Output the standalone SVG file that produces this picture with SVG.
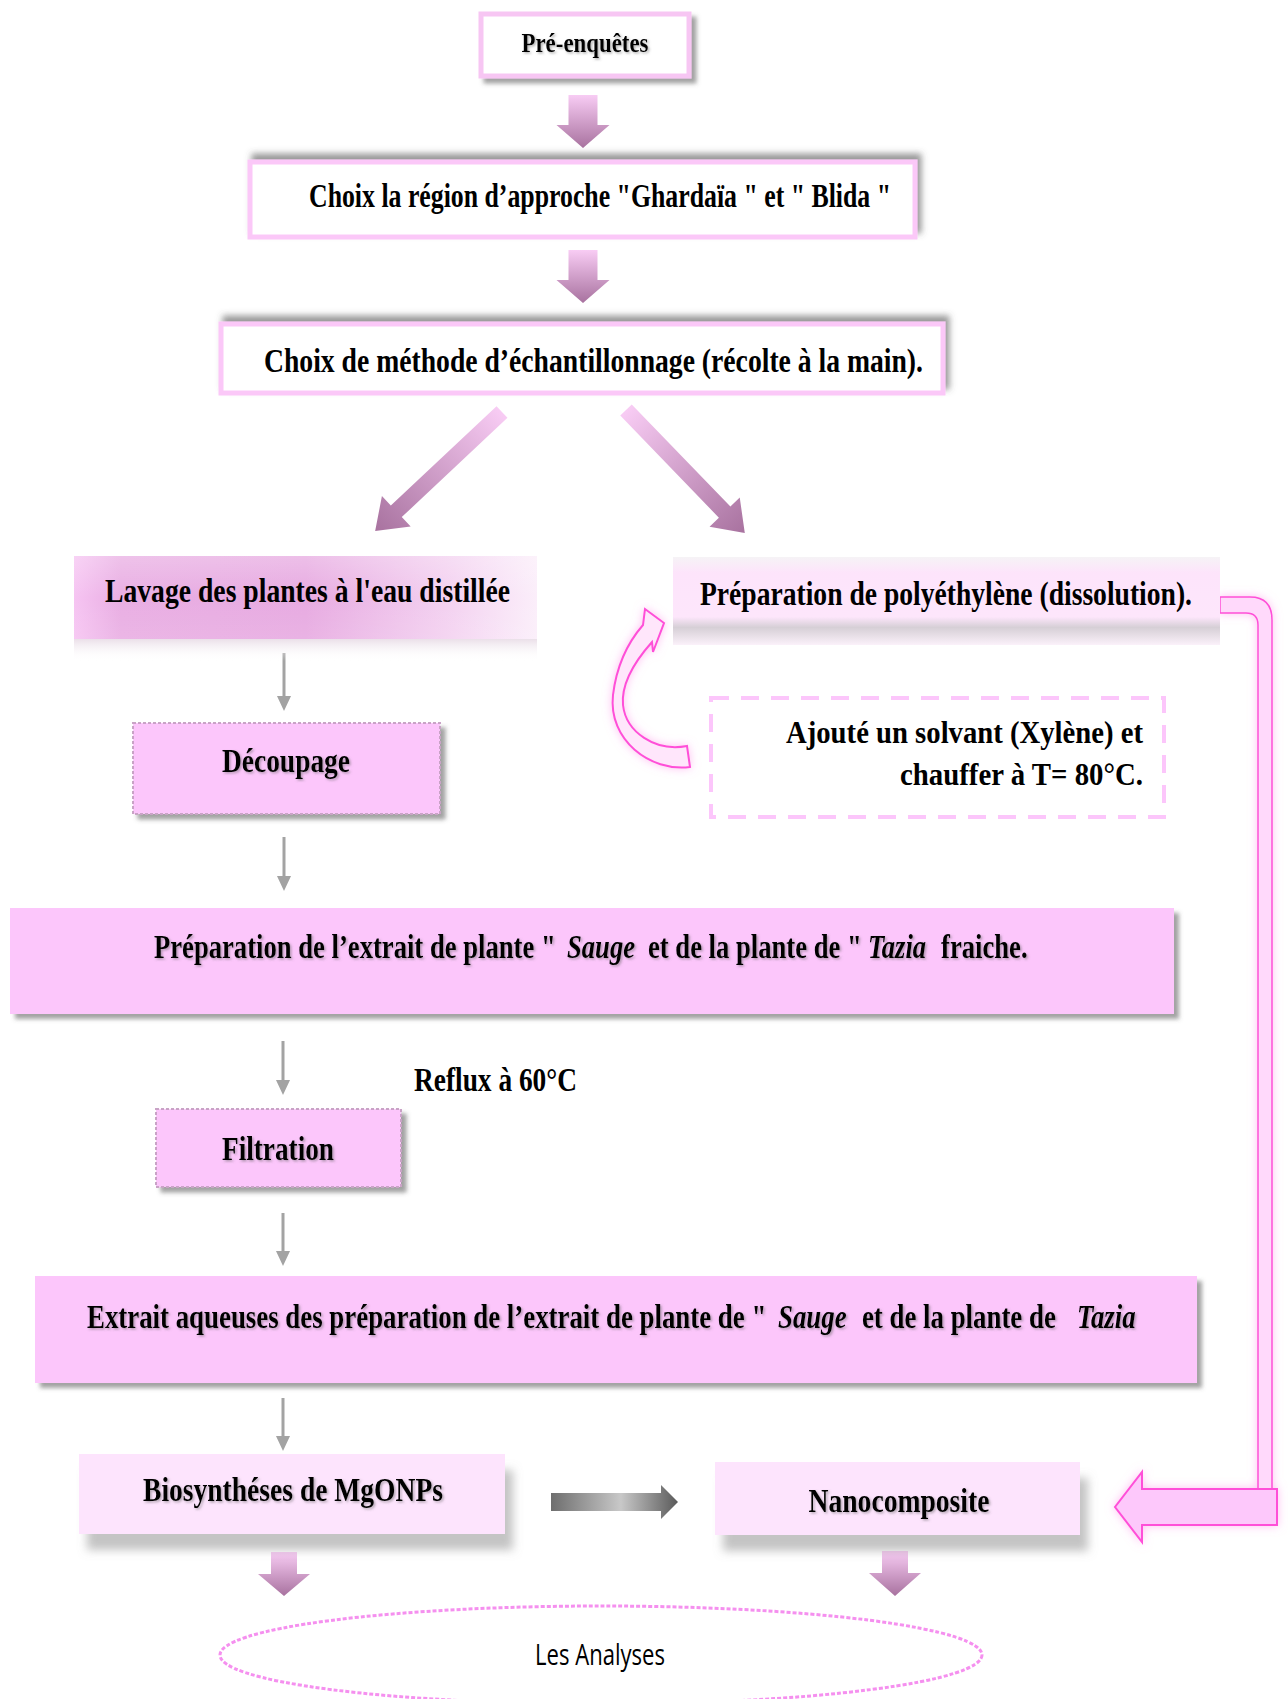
<svg xmlns="http://www.w3.org/2000/svg" width="1288" height="1699" viewBox="0 0 1288 1699">
<style>
  .t { font-family: "Liberation Serif", "DejaVu Serif", serif; font-weight: bold; fill: #000; }
  .s { font-family: "Open Sans", "Liberation Sans", sans-serif; fill: #000; }
  .it { font-style: italic; }
  .gline { stroke: #a3a3a3; stroke-width: 3; fill: none; }
  .ghead { fill: #a3a3a3; }
  .pinkbox { fill: #fcc6fb; }
</style>
<defs>
  <linearGradient id="pinkArrow" x1="0" y1="0" x2="0" y2="1">
    <stop offset="0" stop-color="#f8ccf4"/>
    <stop offset="1" stop-color="#a8729f"/>
  </linearGradient>
  <linearGradient id="grayArrow" x1="0" y1="0" x2="1" y2="0">
    <stop offset="0" stop-color="#6e6e6e"/>
    <stop offset="0.55" stop-color="#c8c8c8"/>
    <stop offset="1" stop-color="#5a5a5a"/>
  </linearGradient>
  <linearGradient id="lavageH" x1="0" y1="0" x2="1" y2="0">
    <stop offset="0" stop-color="#f6c4f2"/>
    <stop offset="0.1" stop-color="#e9aee3"/>
    <stop offset="0.5" stop-color="#e7aae1"/>
    <stop offset="0.8" stop-color="#f3d0f0"/>
    <stop offset="1" stop-color="#fbeefa"/>
  </linearGradient>
  <linearGradient id="lavageV" x1="0" y1="0" x2="0" y2="1">
    <stop offset="0" stop-color="#ffffff" stop-opacity="0.25"/>
    <stop offset="0.5" stop-color="#ffffff" stop-opacity="0"/>
    <stop offset="1" stop-color="#ffffff" stop-opacity="0.1"/>
  </linearGradient>
  <linearGradient id="reflect" x1="0" y1="0" x2="0" y2="1">
    <stop offset="0" stop-color="#e8dce6" stop-opacity="0.9"/>
    <stop offset="1" stop-color="#ffffff" stop-opacity="0"/>
  </linearGradient>
  <linearGradient id="polyV" x1="0" y1="0" x2="0" y2="1">
    <stop offset="0" stop-color="#f6f3f6"/>
    <stop offset="0.18" stop-color="#fde4fb"/>
    <stop offset="0.68" stop-color="#fde6fb"/>
    <stop offset="0.8" stop-color="#d6cfd6"/>
    <stop offset="1" stop-color="#fbf1fa"/>
  </linearGradient>
  <filter id="shBR" x="-5%" y="-20%" width="112%" height="150%">
    <feDropShadow dx="5" dy="5" stdDeviation="2" flood-color="#555" flood-opacity="0.55"/>
  </filter>
  <filter id="shTR" x="-5%" y="-30%" width="112%" height="160%">
    <feDropShadow dx="4" dy="-6" stdDeviation="3" flood-color="#555" flood-opacity="0.6"/>
  </filter>
  <filter id="shLow" x="-5%" y="-20%" width="115%" height="170%">
    <feDropShadow dx="8" dy="16" stdDeviation="5" flood-color="#888" flood-opacity="0.5"/>
  </filter>
  <filter id="textSh" x="-5%" y="-20%" width="110%" height="150%">
    <feDropShadow dx="1.5" dy="1.5" stdDeviation="1" flood-color="#666" flood-opacity="0.5"/>
  </filter>
  <filter id="glow" x="-30%" y="-30%" width="160%" height="160%">
    <feGaussianBlur in="SourceAlpha" stdDeviation="5" result="b"/>
    <feFlood flood-color="#ff8ee8" flood-opacity="0.55"/>
    <feComposite in2="b" operator="in" result="g"/>
    <feMerge><feMergeNode in="g"/><feMergeNode in="SourceGraphic"/></feMerge>
  </filter>
  <path id="fatDown" d="M-14.5,0 H14.5 V30 H26.5 L0,53 L-26.5,30 H-14.5 Z"/>
</defs>

<g id="connectors">
  <use href="#fatDown" x="583" y="95" fill="url(#pinkArrow)"/>
  <use href="#fatDown" x="583" y="250" fill="url(#pinkArrow)"/>
  <path d="M-8,0 H8 V145 H21 L0,174 L-21,145 H-8 Z" fill="url(#pinkArrow)" transform="translate(502,412) rotate(46.8)"/>
  <path d="M-8,0 H8 V142 H21 L0,171 L-21,142 H-8 Z" fill="url(#pinkArrow)" transform="translate(626,410) rotate(-44)"/>
  <line class="gline" x1="284" y1="653" x2="284" y2="698"/>
  <path class="ghead" d="M277,696 H291 L284,711 Z"/>
  <line class="gline" x1="284" y1="837" x2="284" y2="878"/>
  <path class="ghead" d="M277,876 H291 L284,891 Z"/>
  <line class="gline" x1="283" y1="1041" x2="283" y2="1082"/>
  <path class="ghead" d="M276,1080 H290 L283,1095 Z"/>
  <line class="gline" x1="283" y1="1213" x2="283" y2="1253"/>
  <path class="ghead" d="M276,1251 H290 L283,1266 Z"/>
  <line class="gline" x1="283" y1="1398" x2="283" y2="1438"/>
  <path class="ghead" d="M276,1436 H290 L283,1451 Z"/>
  <path d="M551,1493 H661 V1485 L678,1502 L661,1519 V1511 H551 Z" fill="url(#grayArrow)"/>
  <path d="M271,1552 H297 V1574 H310 L284,1596 L258,1574 H271 Z" fill="url(#pinkArrow)"/>
  <path d="M882,1551 H908 V1573 H921 L895,1596 L869,1573 H882 Z" fill="url(#pinkArrow)"/>
  <g filter="url(#glow)">
    <path d="M690,767 C650,772 608,740 613,695 C617,662 630,640 643,625 L645,609 L664,623 L653,652 L652,642 C636,660 621,683 623,705 C626,732 655,752 687,746 Z" fill="#ffe6fb" stroke="#ff4fd8" stroke-width="2"/>
  </g>
  <g filter="url(#glow)">
    <path d="M1220,597 L1250,597 Q1272,597 1272,620 L1272,1489 L1258,1489 L1258,625 Q1258,613 1246,613 L1220,613 Z" fill="#ffd9fb" stroke="#ff4fd8" stroke-width="1.5"/>
    <path d="M1277,1489 L1142,1489 L1142,1472 L1115,1507 L1142,1542 L1142,1525 L1277,1525 Z" fill="#fdc8fb" stroke="#ff4fd8" stroke-width="2"/>
  </g>
</g>

<g id="n-preenquetes">
  <rect x="481" y="14" width="208" height="62" fill="#fff" stroke="#f7c6f3" stroke-width="5" filter="url(#shBR)"/>
  <text class="t" x="585" y="52" font-size="27" text-anchor="middle" textLength="127" lengthAdjust="spacingAndGlyphs" filter="url(#textSh)">Pré-enquêtes</text>
</g>

<g id="n-region">
  <rect x="250" y="162" width="665" height="75" fill="#fff" stroke="#fbc8f8" stroke-width="5" filter="url(#shTR)"/>
  <text class="t" x="309" y="207" font-size="34" textLength="582" lengthAdjust="spacingAndGlyphs">Choix la région d’approche  "Ghardaïa " et " Blida "</text>
</g>

<g id="n-methode">
  <rect x="221" y="324" width="722" height="69" fill="#fff" stroke="#fbc8f8" stroke-width="5" filter="url(#shTR)"/>
  <text class="t" x="264" y="372" font-size="34" textLength="659" lengthAdjust="spacingAndGlyphs">Choix de méthode d’échantillonnage (récolte à la main).</text>
</g>

<g id="n-lavage">
  <rect x="74" y="639" width="463" height="22" fill="url(#reflect)"/>
  <rect x="74" y="556" width="463" height="83" fill="url(#lavageH)"/>
  <rect x="74" y="556" width="463" height="83" fill="url(#lavageV)"/>
  <text class="t" x="105" y="602" font-size="34" textLength="405" lengthAdjust="spacingAndGlyphs" fill="#1a0a18">Lavage des plantes à l'eau distillée</text>
</g>

<g id="n-polyethylene">
  <rect x="673" y="557" width="547" height="88" fill="url(#polyV)"/>
  <text class="t" x="700" y="605" font-size="33" textLength="492" lengthAdjust="spacingAndGlyphs">Préparation de polyéthylène (dissolution).</text>
</g>

<g id="n-solvant">
  <rect x="711" y="698" width="453" height="119" fill="#fff" stroke="#fcc6fb" stroke-width="4" stroke-dasharray="18 12"/>
  <text class="t" x="1143" y="743" font-size="31" text-anchor="end" textLength="357" lengthAdjust="spacingAndGlyphs">Ajouté un solvant (Xylène) et</text>
  <text class="t" x="1143" y="785" font-size="31" text-anchor="end" textLength="243" lengthAdjust="spacingAndGlyphs">chauffer à T= 80°C.</text>
</g>

<g id="n-decoupage">
  <rect x="133" y="723" width="307" height="91" class="pinkbox" stroke="#c9a3c6" stroke-width="2" stroke-dasharray="3 2" filter="url(#shBR)"/>
  <text class="t" x="286" y="772" font-size="34" text-anchor="middle" textLength="128" lengthAdjust="spacingAndGlyphs" filter="url(#textSh)">Découpage</text>
</g>

<g id="n-extrait-fraiche" filter="url(#shBR)">
  <rect x="10" y="908" width="1164" height="106" class="pinkbox"/>
</g>
<g id="n-extrait-fraiche-text" filter="url(#textSh)">
  <g transform="scale(0.784,1)">
    <text class="t" x="196.4" y="958" font-size="34">Préparation de l’extrait de plante "</text>
    <text class="t it" x="723.2" y="958" font-size="34">Sauge</text>
    <text class="t" x="826.5" y="958" font-size="34">et de la plante de "</text>
    <text class="t it" x="1107.1" y="958" font-size="34">Tazia</text>
    <text class="t" x="1200.3" y="958" font-size="34">fraiche.</text>
  </g>
</g>

<g id="n-reflux">
  <text class="t" x="414" y="1091" font-size="34" textLength="163" lengthAdjust="spacingAndGlyphs">Reflux à 60°C</text>
</g>

<g id="n-filtration">
  <rect x="156" y="1109" width="245" height="78" class="pinkbox" stroke="#c9a3c6" stroke-width="2" stroke-dasharray="3 2" filter="url(#shBR)"/>
  <text class="t" x="278" y="1160" font-size="34" text-anchor="middle" textLength="112" lengthAdjust="spacingAndGlyphs" filter="url(#textSh)">Filtration</text>
</g>

<g id="n-extrait-aqueux" filter="url(#shBR)">
  <rect x="35" y="1276" width="1162" height="107" class="pinkbox"/>
</g>
<g id="n-extrait-aqueux-text" filter="url(#textSh)">
  <g transform="scale(0.79,1)">
    <text class="t" x="110.1" y="1328" font-size="34">Extrait aqueuses des préparation de l’extrait de plante de "</text>
    <text class="t it" x="984.8" y="1328" font-size="34">Sauge</text>
    <text class="t" x="1091.1" y="1328" font-size="34">et de la plante de</text>
    <text class="t it" x="1363.3" y="1328" font-size="34">Tazia</text>
  </g>
</g>

<g id="n-biosynthese">
  <rect x="79" y="1454" width="426" height="80" fill="#fde4fd" filter="url(#shLow)"/>
  <text class="t" x="293" y="1501" font-size="34" text-anchor="middle" textLength="300" lengthAdjust="spacingAndGlyphs" filter="url(#textSh)">Biosynthéses de MgONPs</text>
</g>

<g id="n-nanocomposite">
  <rect x="715" y="1462" width="365" height="73" fill="#fde4fd" filter="url(#shLow)"/>
  <text class="t" x="899" y="1512" font-size="34" text-anchor="middle" textLength="181" lengthAdjust="spacingAndGlyphs" filter="url(#textSh)">Nanocomposite</text>
</g>

<g id="n-analyses">
  <ellipse cx="601" cy="1655" rx="381" ry="49" fill="#fff" stroke="#f590ef" stroke-width="3" stroke-dasharray="4 2"/>
  <text class="s" x="600" y="1665" font-size="29" text-anchor="middle" textLength="130" lengthAdjust="spacingAndGlyphs">Les Analyses</text>
</g>
</svg>
